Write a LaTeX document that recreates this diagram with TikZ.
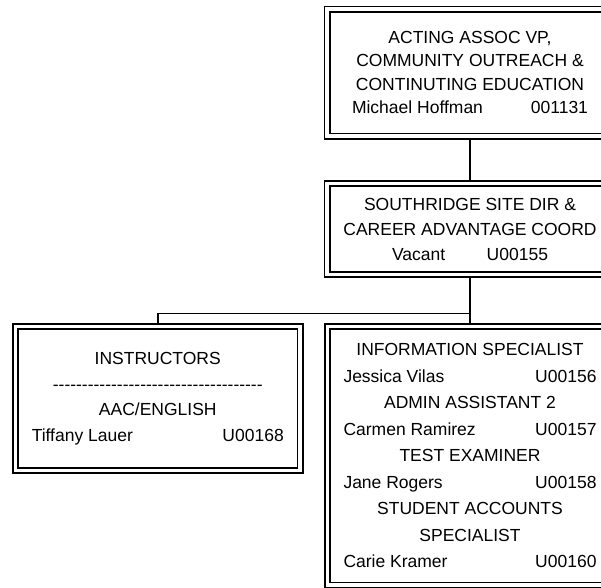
\documentclass[tikz,border=0pt]{standalone}
\usepackage{fontspec}
\setmainfont{Liberation Sans}
\usetikzlibrary{positioning, backgrounds, calc}

\newcommand{\namerow}[3]{\makebox[#1]{#2\hfill #3}}
\newcommand{\dashrow}[1]{\makebox[#1]{\cleaders\hbox{-}\hfill}}

\begin{document}
\begin{tikzpicture}[
  x=1pt, y=1pt,
  % Box Styles (argument = line spacing)
  posbox/.style={rectangle, draw, double, double distance=3.2pt, line width=1.9pt, fill=white, inner sep=0pt, outer sep=0pt, align=center, font=\fontsize{17.5}{#1}\selectfont},
  posbox/.default=24pt,
  % Line Styles
  link/.style={line width=1.8pt}
]
\useasboundingbox (0,0) rectangle (601,-587);

% Nodes
\node[posbox=23.5pt, minimum width=286pt, minimum height=127pt] (VPOutreach) at (470,-72.5) {ACTING ASSOC VP,\\COMMUNITY OUTREACH \&\\CONTINUTING EDUCATION\\\namerow{236pt}{Michael Hoffman}{001131}};
\node[posbox=25pt, minimum width=286pt, minimum height=91pt, below=47.5pt of VPOutreach] (SiteDir) {SOUTHRIDGE SITE DIR \&\\CAREER ADVANTAGE COORD\\\namerow{156pt}{Vacant}{U00155}};
\node[posbox=26.5pt, minimum width=285pt, minimum height=258.5pt, below=52pt of SiteDir] (Staff) {INFORMATION SPECIALIST\\\namerow{253pt}{Jessica Vilas}{U00156}\\ADMIN ASSISTANT 2\\\namerow{253pt}{Carmen Ramirez}{U00157}\\TEST EXAMINER\\\namerow{253pt}{Jane Rogers}{U00158}\\STUDENT ACCOUNTS\\SPECIALIST\\\namerow{253pt}{Carie Kramer}{U00160}};
\node[posbox=25.5pt, minimum width=284.5pt, minimum height=144pt, left=27.5pt of Staff.north west, anchor=north east] (Instructors) {INSTRUCTORS\\\dashrow{215pt}\\AAC/ENGLISH\\\namerow{252pt}{Tiffany Lauer}{U00168}}; % sits left of the staff box

% Connectors
\begin{scope}[on background layer]
\draw[link] (VPOutreach) -- (SiteDir);
\draw[link] (SiteDir) -- (Staff);
\draw[link] (Staff.north) -- ++(0,13) -| (Instructors.north);
\end{scope}

\end{tikzpicture}
\end{document}
